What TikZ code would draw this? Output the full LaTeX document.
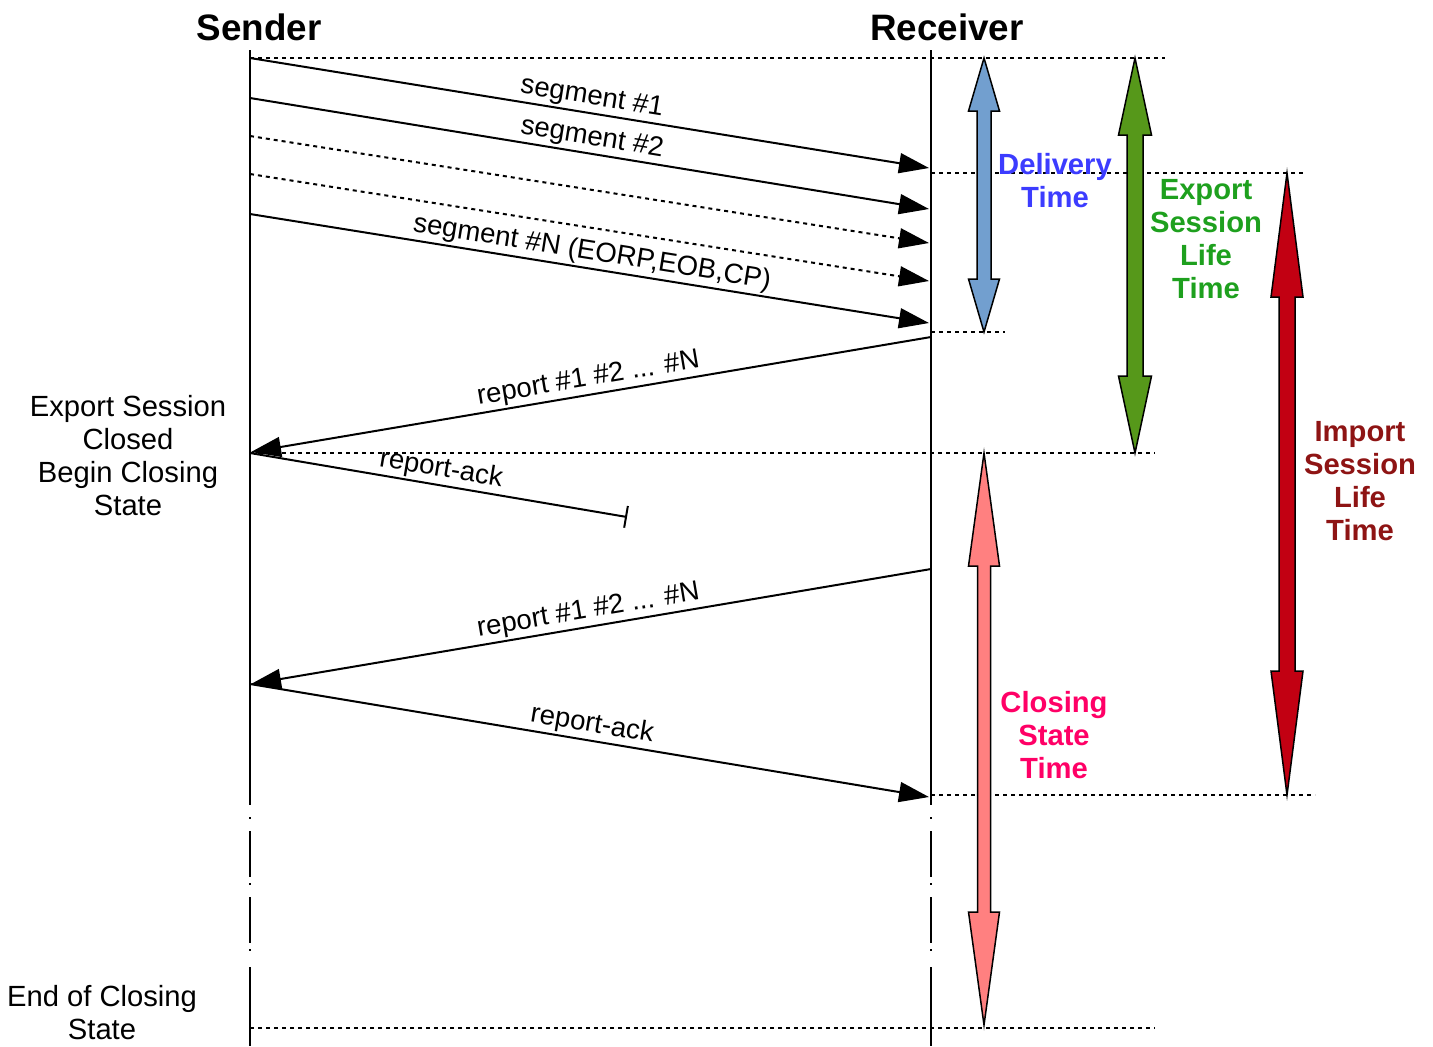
\documentclass[tikz,border=0pt]{standalone}
\usepackage{fontspec}
\setmainfont{Liberation Sans}
\usetikzlibrary{arrows.meta}

\definecolor{deliveryfill}{HTML}{729FCF}
\definecolor{exportfill}{HTML}{56981A}
\definecolor{importfill}{HTML}{C20012}
\definecolor{closingfill}{HTML}{FF8080}
\definecolor{deliverytext}{HTML}{3C3CFF}
\definecolor{exporttext}{HTML}{1EA01E}
\definecolor{importtext}{HTML}{8E1414}
\definecolor{closingtext}{HTML}{FF0066}

% vertical double-headed block arrow:
% #1 x, #2 top tip, #3 bottom tip, #4 shaft half width, #5 head half width, #6 head length, #7 fill
\newcommand\spanarrow[7]{%
  \filldraw[fill=#7, draw=black, line width=0.75pt, line join=miter, miter limit=30]
    (#1,#2) -- ++(#5,#6) -- ++({#4-#5},0) -- ({#1+#4},{#3-#6}) -- ++({#5-#4},0)
    -- (#1,#3) -- ++(-#5,-#6) -- ++({#5-#4},0) -- ({#1-#4},{#2+#6}) -- ++({#4-#5},0) -- cycle;}

\begin{document}
\begin{tikzpicture}[x=0.5pt,y=-0.5pt,
  lifeline/.style={line width=0.8pt},
  lifebreak/.style={line width=0.8pt, dash pattern=on 0pt off 6pt on 1pt off 6pt on 23pt off 3pt on 1pt off 6pt on 23pt off 3pt on 1pt off 8pt},
  msg/.style={line width=1pt, -{Triangle[length=15pt,width=10pt]}},
  dottedmsg/.style={msg, dash pattern=on 2pt off 2pt},
  lostmsg/.style={line width=1pt, -{Bar[width=11pt,line width=1pt]}},
  guide/.style={line width=0.7pt, dash pattern=on 2pt off 2pt},
  msglabel/.style={font=\fontsize{13.8}{16}\selectfont, sloped, above, inner sep=1pt, pos=0.5},
  party/.style={font=\fontsize{18.4}{22}\selectfont\bfseries},
  spanlabel/.style={font=\fontsize{14.6}{16.5}\selectfont\bfseries, align=center},
  note/.style={font=\fontsize{14.6}{16.5}\selectfont, align=center},
]
\useasboundingbox (0,0) rectangle (1433,1046);

% participants
\node[party] (sender) at (259,27) {Sender};
\node[party] (receiver) at (947,27) {Receiver};

% lifelines
\coordinate (sTop) at (250,50);   \coordinate (rTop) at (931,50);
\coordinate (sBrk) at (250,805);  \coordinate (rBrk) at (931,805);
\coordinate (sRes) at (250,967);  \coordinate (rRes) at (931,967);
\coordinate (sBot) at (250,1046); \coordinate (rBot) at (931,1046);
\draw[lifeline] (sTop) -- (sBrk);
\draw[lifebreak] (sBrk) -- (sRes);
\draw[lifeline] (sRes) -- (sBot);
\draw[lifeline] (rTop) -- (rBrk);
\draw[lifebreak] (rBrk) -- (rRes);
\draw[lifeline] (rRes) -- (rBot);

% time marks
\coordinate (g1a) at (250,58);  \coordinate (g1b) at (1165,58);
\coordinate (g2a) at (931,173); \coordinate (g2b) at (1305,173);
\coordinate (g3a) at (931,332); \coordinate (g3b) at (1005,332);
\coordinate (g4a) at (250,453); \coordinate (g4b) at (1155,453);
\coordinate (g5a) at (931,795); \coordinate (g5b) at (1315,795);
\coordinate (g6a) at (250,1028); \coordinate (g6b) at (1155,1028);
\foreach \g in {1,...,6} \draw[guide] (g\g a) -- (g\g b);

% data segments
\coordinate (s0) at (250,58);  \coordinate (r0) at (929,168);
\coordinate (s1) at (250,98);  \coordinate (r1) at (929,209);
\coordinate (s2) at (250,136); \coordinate (r2) at (929,243);
\coordinate (s3) at (250,174); \coordinate (r3) at (929,281);
\coordinate (s4) at (250,214); \coordinate (r4) at (929,323);
\draw[msg] (s0) -- node[msglabel] {segment \#1} (r0);
\draw[msg] (s1) -- node[msglabel] {segment \#2} (r1);
\draw[dottedmsg] (s2) -- (r2);
\draw[dottedmsg] (s3) -- (r3);
\draw[msg] (s4) -- node[msglabel] {segment \#N (EORP,EOB,CP)} (r4);

% first report and its lost acknowledgement
\coordinate (rep1a) at (931,337); \coordinate (rep1b) at (251,452);
\coordinate (ack1a) at (250,453); \coordinate (ack1b) at (627,517);
\draw[msg] (rep1a) -- node[msglabel] {report \#1 \#2 ... \#N} (rep1b);
\draw[lostmsg] (ack1a) -- node[msglabel] {report-ack} (ack1b);

% retransmitted report and acknowledgement
\coordinate (rep2a) at (931,569); \coordinate (rep2b) at (251,684);
\coordinate (ack2a) at (250,684); \coordinate (ack2b) at (929,797);
\draw[msg] (rep2a) -- node[msglabel] {report \#1 \#2 ... \#N} (rep2b);
\draw[msg] (ack2a) -- node[msglabel] {report-ack} (ack2b);

% intervals
\spanarrow{984}{58}{332}{7}{15.5}{53}{deliveryfill}
\spanarrow{1135}{58}{453}{8}{16.5}{77}{exportfill}
\spanarrow{1287}{173}{795}{8}{16}{124}{importfill}
\spanarrow{984}{453}{1025}{6.5}{15.5}{113}{closingfill}

% interval labels
\node[spanlabel, text=deliverytext] (delivery) at (1055,181) {Delivery\\Time};
\node[spanlabel, text=exporttext] (exportlife) at (1206,239) {Export\\Session\\Life\\Time};
\node[spanlabel, text=importtext] (importlife) at (1360,481) {Import\\Session\\Life\\Time};
\node[spanlabel, text=closingtext] (closing) at (1054,735) {Closing\\State\\Time};

% sender-side state notes
\node[note] (closed) at (128,456) {Export Session\\Closed\\Begin Closing\\State};
\node[note] (endclosing) at (102,1013) {End of Closing\\State};
\end{tikzpicture}
\end{document}
